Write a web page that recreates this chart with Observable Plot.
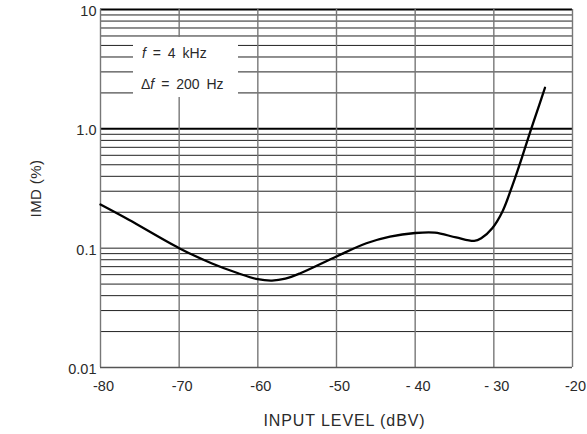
<!DOCTYPE html>
<html>
<head>
<meta charset="utf-8">
<script src="https://cdn.jsdelivr.net/npm/d3@7"></script>
<script src="https://cdn.jsdelivr.net/npm/@observablehq/plot@0.6"></script>
<style>
  html, body { margin: 0; padding: 0; background: #fff; }
  #wrap { position: relative; width: 587px; height: 434px; font-family: "Liberation Sans", Arial, sans-serif; }
  #wrap svg g[aria-label="x-axis tick label"] text,
  #wrap svg g[aria-label="y-axis tick label"] text { font-size: 14.5px; fill: #2a2a2a; }
  #wrap svg g[aria-label="x-axis label"] text { font-size: 16px; letter-spacing: 0.9px; fill: #2a2a2a; }
  #wrap svg g[aria-label="y-axis label"] text { font-size: 15px; letter-spacing: 0.4px; fill: #2a2a2a; }
  #legend { position: absolute; left: 133px; top: 37px; width: 105px; height: 60px; background: #fff; color: #2a2a2a; font-size: 14px; word-spacing: 3px; }
  #legend div { position: absolute; white-space: nowrap; line-height: 16px; }
</style>
</head>
<body>
<div id="wrap"></div>
<script>
// Curve: input level (dBV) vs IMD (%)
const inputLevel = [-80, -76.4, -70, -65.9, -62.5, -60, -58.2, -56.5, -54.6, -50, -46.2, -43.2, -40, -37.5, -34.8, -32.5, -31.6, -30.2, -28.9, -27.6, -26.3, -25.25, -24.2, -23.5];
const imd = [0.232, 0.173, 0.1, 0.0748, 0.0616, 0.0549, 0.0535, 0.0555, 0.0616, 0.0852, 0.110, 0.125, 0.134, 0.135, 0.123, 0.115, 0.121, 0.147, 0.203, 0.341, 0.61, 1.0, 1.6, 2.21];

// Axis ticks and labels
const xTicks = [-80, -70, -60, -50, -40, -30, -20];
const xTickLabels = ["-80", "-70", "-60", "-50", "- 40", "- 30", "-20"];
const yTicks = [0.01, 0.1, 1, 10];
const yTickLabels = ["0.01", "0.1", "1.0", "10"];
// Log grid lines
const yGrid = [0.02, 0.03, 0.04, 0.05, 0.06, 0.07, 0.08, 0.09, 0.1,
               0.2, 0.3, 0.4, 0.5, 0.6, 0.7, 0.8, 0.9,
               2, 3, 4, 5, 6, 7, 8, 9];
const yMajor = [1, 10];

const legendLines = ["<i>f</i> = 4 kHz", "Δ<i>f</i> = 200 Hz"];

const data = inputLevel.map((x, i) => ({x, y: imd[i]}));

const chart = Plot.plot({
  width: 587,
  height: 434,
  marginLeft: 100,
  marginRight: 15,
  marginTop: 9,
  marginBottom: 67,
  style: {fontFamily: "Liberation Sans, Arial, sans-serif", fontSize: "14px", color: "#2a2a2a", background: "#fff"},
  x: {domain: [-80, -20]},
  y: {type: "log", domain: [0.01, 10]},
  marks: [
    Plot.ruleY(yGrid, {stroke: "#222", strokeWidth: 1}),
    Plot.ruleY(yMajor, {stroke: "#000", strokeWidth: 2}),
    Plot.ruleX(xTicks, {stroke: "#777", strokeWidth: 1.4}),
    Plot.ruleY([0.01], {stroke: "#555", strokeWidth: 1.3}),
    Plot.axisX({ticks: xTicks, tickFormat: (d) => xTickLabels[xTicks.indexOf(d)], tickSize: 0, tickPadding: 13,
      label: "INPUT LEVEL (dBV)", labelAnchor: "center", labelArrow: "none", labelOffset: 58}),
    Plot.axisY({ticks: yTicks, tickFormat: (d) => yTickLabels[yTicks.indexOf(d)], tickSize: 0, tickPadding: 4,
      label: "IMD (%)", labelAnchor: "center", labelArrow: "none", labelOffset: 70}),
    Plot.line(data, {x: "x", y: "y", stroke: "#000", strokeWidth: 2.3, curve: "catmull-rom"})
  ]
});

// small label nudges, appended to Plot's own transforms
function nudge(label, dx, dy) {
  chart.querySelectorAll(`g[aria-label="${label}"]`).forEach((g) => {
    const t = g.getAttribute("transform") || "";
    g.setAttribute("transform", `${t} translate(${dx},${dy})`.trim());
  });
}
nudge("x-axis tick label", 3, 0);
nudge("y-axis tick label", 0, 2);
nudge("x-axis label", 8, 0);

const wrap = document.getElementById("wrap");
wrap.appendChild(chart);
const legend = document.createElement("div");
legend.id = "legend";
legendLines.forEach((t, i) => {
  const d = document.createElement("div");
  d.innerHTML = t;
  d.style.top = (i === 0 ? 8 : 39) + "px";
  d.style.left = (i === 0 ? 9 : 8) + "px";
  legend.appendChild(d);
});
wrap.appendChild(legend);
</script>
</body>
</html>
